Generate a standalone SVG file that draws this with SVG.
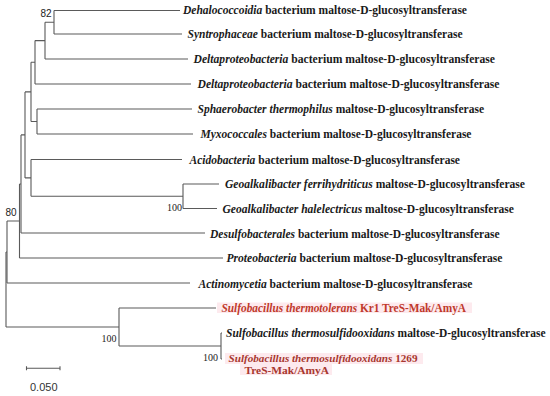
<svg xmlns="http://www.w3.org/2000/svg" width="550" height="396" viewBox="0 0 550 396">
<style>
.br{fill:none;stroke:#5a5a5a;stroke-width:1.1}
.lb{font-family:"Liberation Serif","Times New Roman",serif;font-size:11.5px;font-weight:bold;fill:#1a1a1a}
.sm{font-size:10.5px}
.it{font-style:italic}
.red{fill:#c0392b}
.dred{fill:#a8372f}
.hl{fill:#fdeaee}
.bs{font-family:"Liberation Sans",Arial,sans-serif;font-size:10px;fill:#222}
.bss{font-family:"Liberation Serif","Times New Roman",serif;font-size:10px;fill:#222}
.sc{font-family:"Liberation Sans",Arial,sans-serif;font-size:11px;fill:#333}
</style>
<rect width="550" height="396" fill="#ffffff"/>
<g id="connectors">
<path class="br" d="M54,10.5V34M54,10.5H180M54,34H182"/>
<path class="br" d="M45,22.25V59M45,22.25H54M45,59H188"/>
<path class="br" d="M35,40.6V84M35,40.6H45M35,84H191"/>
<path class="br" d="M37,109V134M37,109H192M37,134H193"/>
<path class="br" d="M31,62.3V121.5M31,62.3H35M31,121.5H37"/>
<path class="br" d="M183,184V208.5M183,184H219M183,208.5H217"/>
<path class="br" d="M31,159.5V196.25M31,159.5H182M31,196.25H183"/>
<path class="br" d="M25,91.9V177.9M25,91.9H31M25,177.9H31"/>
<path class="br" d="M21,134.9V233M21,134.9H25M21,233H205"/>
<path class="br" d="M19.5,184V258M19.5,184H21M19.5,258H223"/>
<path class="br" d="M7,221V283M7,221H19.5M7,283H190"/>
<path class="br" d="M221,333V359M221,333H222M221,359H222"/>
<path class="br" d="M119,308V346M119,308H216M119,346H221"/>
<path class="br" d="M6,252V327M6,252H7M6,327H119"/>
</g>
<g id="bootstrap">
<text class="bs" x="40.5" y="16.5">82</text>
<text class="bss" x="167" y="211">100</text>
<text class="bs" x="5.5" y="216">80</text>
<text class="bss" x="101.5" y="341.5">100</text>
<text class="bss" x="203" y="360.5">100</text>
</g>
<g id="leaf-dehalococcoidia"><text class="lb" x="183" y="14" textLength="284" lengthAdjust="spacingAndGlyphs"><tspan class="it">Dehalococcoidia</tspan> bacterium maltose-D-glucosyltransferase</text></g>
<g id="leaf-syntrophaceae"><text class="lb" x="187.5" y="38" textLength="275" lengthAdjust="spacingAndGlyphs"><tspan class="it">Syntrophaceae</tspan> bacterium maltose-D-glucosyltransferase</text></g>
<g id="leaf-deltaproteobacteria-1"><text class="lb" x="193.5" y="63" textLength="301.5" lengthAdjust="spacingAndGlyphs"><tspan class="it">Deltaproteobacteria</tspan> bacterium maltose-D-glucosyltransferase</text></g>
<g id="leaf-deltaproteobacteria-2"><text class="lb" x="197.5" y="88" textLength="302" lengthAdjust="spacingAndGlyphs"><tspan class="it">Deltaproteobacteria</tspan> bacterium maltose-D-glucosyltransferase</text></g>
<g id="leaf-sphaerobacter"><text class="lb" x="197.5" y="113" textLength="286.5" lengthAdjust="spacingAndGlyphs"><tspan class="it">Sphaerobacter thermophilus</tspan> maltose-D-glucosyltransferase</text></g>
<g id="leaf-myxococcales"><text class="lb" x="200.5" y="138" textLength="271" lengthAdjust="spacingAndGlyphs"><tspan class="it">Myxococcales</tspan> bacterium maltose-D-glucosyltransferase</text></g>
<g id="leaf-acidobacteria"><text class="lb" x="189.5" y="163.5" textLength="270.5" lengthAdjust="spacingAndGlyphs"><tspan class="it">Acidobacteria</tspan> bacterium maltose-D-glucosyltransferase</text></g>
<g id="leaf-geoalkalibacter-ferrihydriticus"><text class="lb" x="225" y="188" textLength="300" lengthAdjust="spacingAndGlyphs"><tspan class="it">Geoalkalibacter ferrihydriticus</tspan> maltose-D-glucosyltransferase</text></g>
<g id="leaf-geoalkalibacter-halelectricus"><text class="lb" x="222.5" y="212.5" textLength="291.5" lengthAdjust="spacingAndGlyphs"><tspan class="it">Geoalkalibacter halelectricus</tspan> maltose-D-glucosyltransferase</text></g>
<g id="leaf-desulfobacterales"><text class="lb" x="210" y="237.5" textLength="289.5" lengthAdjust="spacingAndGlyphs"><tspan class="it">Desulfobacterales</tspan> bacterium maltose-D-glucosyltransferase</text></g>
<g id="leaf-proteobacteria"><text class="lb" x="226.5" y="261.5" textLength="276" lengthAdjust="spacingAndGlyphs"><tspan class="it">Proteobacteria</tspan> bacterium maltose-D-glucosyltransferase</text></g>
<g id="leaf-actinomycetia"><text class="lb" x="198.5" y="287.5" textLength="274" lengthAdjust="spacingAndGlyphs"><tspan class="it">Actinomycetia</tspan> bacterium maltose-D-glucosyltransferase</text></g>
<g id="leaf-sulfobacillus-kr1">
<rect class="hl" x="217" y="302.5" width="255" height="10.5"/>
<text class="lb red" x="221.5" y="311.5" textLength="244.5" lengthAdjust="spacingAndGlyphs"><tspan class="it">Sulfobacillus thermotolerans</tspan> Kr1 TreS-Mak/AmyA</text></g>
<g id="leaf-sulfobacillus-thermosulfidooxidans"><text class="lb" x="226" y="337" textLength="319.5" lengthAdjust="spacingAndGlyphs"><tspan class="it">Sulfobacillus thermosulfidooxidans</tspan> maltose-D-glucosyltransferase</text></g>
<g id="leaf-sulfobacillus-1269">
<rect class="hl" x="225" y="353" width="198" height="11"/>
<rect class="hl" x="240" y="364" width="92" height="11"/>
<text class="lb sm dred" x="228.5" y="361.5" textLength="189" lengthAdjust="spacingAndGlyphs"><tspan class="it">Sulfobacillus thermosulfidooxidans</tspan> 1269</text>
<text class="lb sm dred" x="244.5" y="373.5" textLength="84.5" lengthAdjust="spacingAndGlyphs">TreS-Mak/AmyA</text></g>
<g id="scale-bar">
<path class="br" d="M26.5,368.3H60M26.5,366.3V370.3M60,366.3V370.3"/>
<text class="sc" x="30" y="390.5">0.050</text>
</g>
</svg>
